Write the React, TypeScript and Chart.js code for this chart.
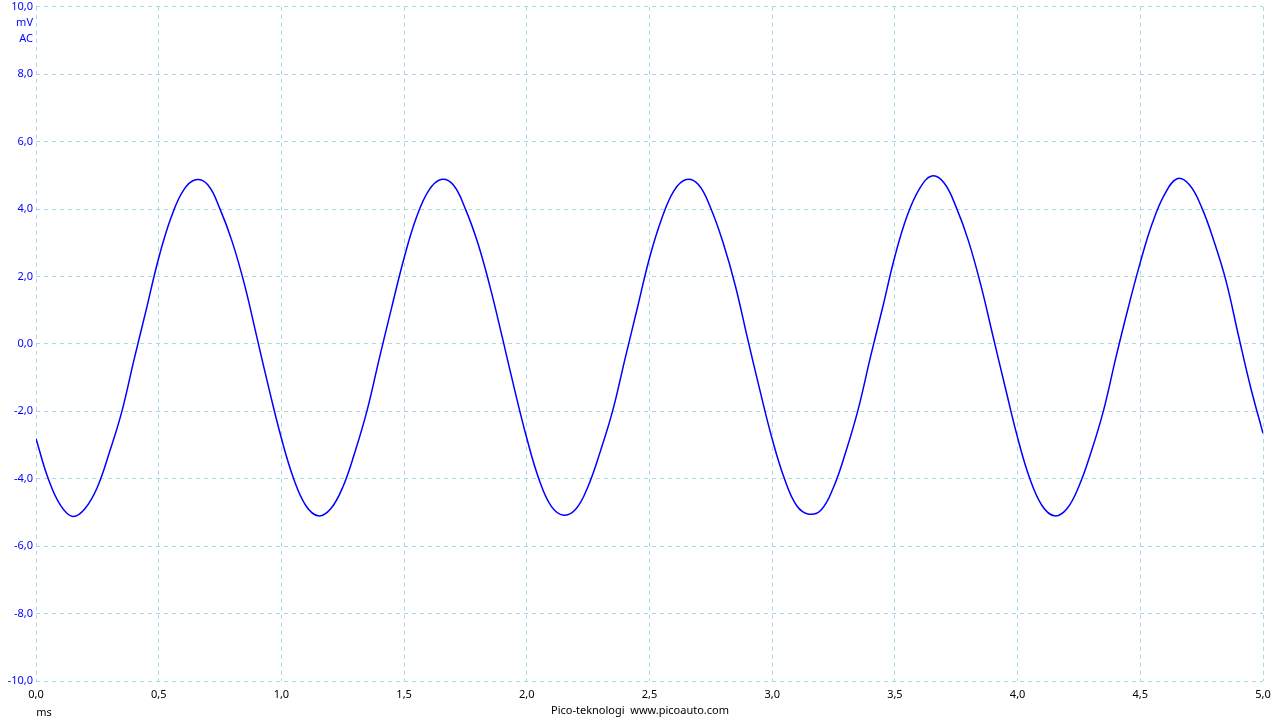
import React, { useEffect, useRef } from "react";
import { Chart, registerables } from "chart.js";

Chart.register(...registerables);

const timeMs: number[] = [
  0.0, 0.05, 0.1, 0.15, 0.2, 0.25, 0.3, 0.35, 0.4, 0.45,
  0.5, 0.55, 0.6, 0.65, 0.7, 0.75, 0.8, 0.85, 0.9, 0.95,
  1.0, 1.05, 1.1, 1.15, 1.2, 1.25, 1.3, 1.35, 1.4, 1.45,
  1.5, 1.55, 1.6, 1.65, 1.7, 1.75, 1.8, 1.85, 1.9, 1.95,
  2.0, 2.05, 2.1, 2.15, 2.2, 2.25, 2.3, 2.35, 2.4, 2.45,
  2.5, 2.55, 2.6, 2.65, 2.7, 2.75, 2.8, 2.85, 2.9, 2.95,
  3.0, 3.05, 3.1, 3.15, 3.2, 3.25, 3.3, 3.35, 3.4, 3.45,
  3.5, 3.55, 3.6, 3.65, 3.7, 3.75, 3.8, 3.85, 3.9, 3.95,
  4.0, 4.05, 4.1, 4.15, 4.2, 4.25, 4.3, 4.35, 4.4, 4.45,
  4.5, 4.55, 4.6, 4.65, 4.7, 4.75, 4.8, 4.85, 4.9, 4.95,
  5.0,
];

const voltageMv: number[] = [
  -2.81, -4.0, -4.79, -5.12, -4.88, -4.25, -3.2, -2.0, -0.45, 1.04,
  2.55, 3.74, 4.55, 4.87, 4.72, 4.0, 3.02, 1.75, 0.2, -1.35,
  -2.8, -4.0, -4.8, -5.1, -4.9, -4.25, -3.2, -1.95, -0.4, 1.1,
  2.55, 3.75, 4.55, 4.88, 4.72, 4.0, 3.0, 1.7, 0.2, -1.35,
  -2.8, -4.02, -4.82, -5.08, -4.9, -4.22, -3.18, -1.98, -0.45, 1.05,
  2.55, 3.72, 4.55, 4.88, 4.72, 4.02, 3.0, 1.72, 0.15, -1.38,
  -2.82, -4.0, -4.8, -5.05, -4.92, -4.25, -3.2, -1.95, -0.4, 1.08,
  2.6, 3.8, 4.6, 4.98, 4.78, 4.05, 3.05, 1.75, 0.22, -1.3,
  -2.78, -4.0, -4.8, -5.1, -4.9, -4.22, -3.2, -1.98, -0.42, 1.05,
  2.42, 3.6, 4.45, 4.9, 4.72, 4.05, 3.05, 1.85, 0.25, -1.3,
  -2.65,
];

const yUnitLabels: string[] = ["mV", "AC"];
const xUnitLabel = "ms";
const footerText = "Pico-teknologi  www.picoauto.com";

const FONT = "'Noto Sans', 'Open Sans', sans-serif";
const GRID = "rgb(168, 216, 228)";
const BLUE = "rgb(0, 0, 255)";
const fmt = (v: number) => v.toFixed(1).replace(".", ",");

export default function App() {
  const ref = useRef<HTMLCanvasElement | null>(null);

  useEffect(() => {
    document.body.style.margin = "0";
    const canvas = ref.current;
    if (!canvas) return;

    const extras = {
      id: "extras",
      afterDraw(chart: any) {
        const ctx = chart.ctx;
        const y = chart.scales.y;
        const x = chart.scales.x;
        ctx.save();
        ctx.font = `11px ${FONT}`;
        ctx.fillStyle = BLUE;
        ctx.textAlign = "right";
        ctx.textBaseline = "middle";
        const top = y.getPixelForValue(10);
        yUnitLabels.forEach((t, i) => ctx.fillText(t, 33, top + 16 * (i + 1)));
        ctx.fillStyle = "#000";
        ctx.textAlign = "center";
        ctx.fillText(xUnitLabel, x.getPixelForValue(0) + 8, 713);
        ctx.fillText(footerText, 640, 711);
        ctx.restore();
      },
    };

    const chart = new Chart(canvas, {
      type: "line",
      data: {
        datasets: [
          {
            data: timeMs.map((t, i) => ({ x: t, y: voltageMv[i] })),
            borderColor: BLUE,
            borderWidth: 1.5,
            pointRadius: 0,
            tension: 0.4,
            fill: false,
          },
        ],
      },
      options: {
        animation: false,
        responsive: false,
        maintainAspectRatio: false,
        layout: { padding: { top: 6, right: 17, left: 0, bottom: 0 } },
        plugins: { legend: { display: false }, tooltip: { enabled: false } },
        scales: {
          x: {
            type: "linear",
            min: 0,
            max: 5,
            border: { display: false, dash: [4, 4] },
            grid: { color: GRID, lineWidth: 1, drawTicks: false },
            ticks: {
              stepSize: 0.5,
              padding: 7,
              color: "#000",
              font: { size: 11, family: FONT },
              callback: (v: any) => fmt(Number(v)),
              maxRotation: 0,
            },
            afterFit: (s: any) => {
              s.height = 39;
            },
          },
          y: {
            min: -10,
            max: 10,
            border: { display: false, dash: [4, 4] },
            grid: { color: GRID, lineWidth: 1, drawTicks: false },
            ticks: {
              stepSize: 2,
              padding: 3,
              color: BLUE,
              font: { size: 11, family: FONT, lineHeight: 0.7 },
              callback: (v: any) => fmt(Number(v)),
            },
            afterFit: (s: any) => {
              s.width = 36;
            },
          },
        },
      },
      plugins: [extras],
    } as any);

    return () => chart.destroy();
  }, []);

  return <canvas ref={ref} width={1280} height={720} style={{ display: "block" }} />;
}
